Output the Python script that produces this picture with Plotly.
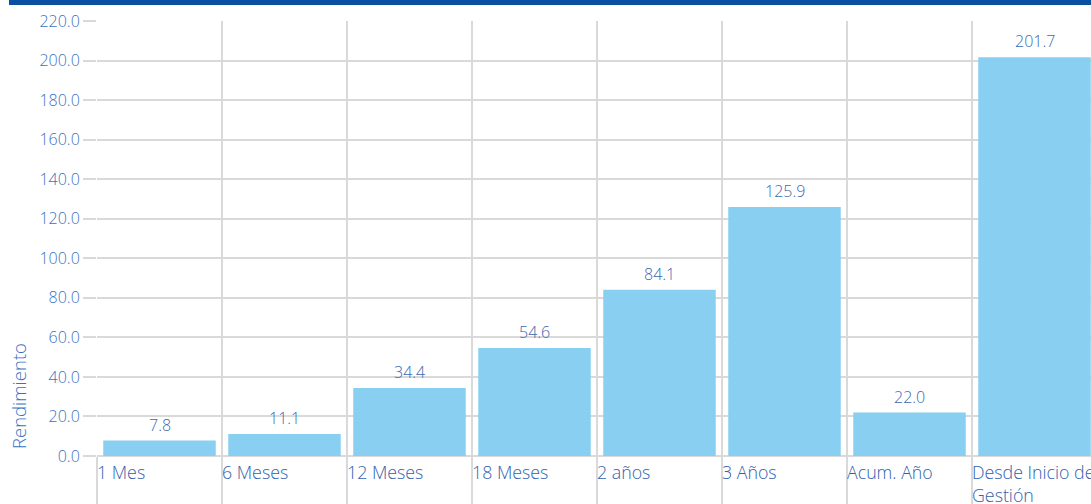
import plotly.graph_objects as go

categories = ["1 Mes", "6 Meses", "12 Meses", "18 Meses", "2 años", "3 Años", "Acum. Año", "Desde Inicio de Gestión"]
cat_labels = ["1 Mes", "6 Meses", "12 Meses", "18 Meses", "2 años", "3 Años", "Acum. Año", "Desde Inicio de<br>Gestión"]
values = [7.8, 11.1, 34.4, 54.6, 84.1, 125.9, 22.0, 201.7]

W, H = 1091, 504
ML, MT, MB = 97, 21, 48
plot_w = W - ML
plot_h = H - MT - MB
cat_px = 125.0

GRID = "#d9d9d9"
TICK_TXT = "#3a72c2"
XLBL = "#3261ad"
LBL = "#3a68b0"
FONT = "Open Sans, Noto Sans, sans-serif"
WT = 300

fig = go.Figure()
fig.add_trace(go.Bar(
    x=categories, y=values,
    marker=dict(color="#89cff1", line=dict(width=0)),
    hoverinfo="x+y",
))

xmax = plot_w / cat_px - 0.5

annotations = []
for c, v in zip(categories, values):
    annotations.append(dict(
        x=c, y=v, xref="x", yref="y", xanchor="center", yanchor="bottom",
        yshift=3, text=f"{v:.1f}", showarrow=False,
        font=dict(color=LBL, size=16, family=FONT, weight=WT),
    ))
for i, lab in enumerate(cat_labels):
    annotations.append(dict(
        x=i - 0.5, y=0, xref="x", yref="paper",
        xanchor="left", yanchor="top", yshift=-2, xshift=-2,
        text=lab, showarrow=False, align="left",
        font=dict(color=XLBL, size=17.8, family=FONT, weight=WT),
    ))
annotations.append(dict(
    x=-79 / plot_w, y=(456 - 396) / plot_h, xref="paper", yref="paper",
    text="Rendimiento", textangle=-90, showarrow=False,
    xanchor="center", yanchor="middle",
    font=dict(color=TICK_TXT, size=18.5, family=FONT, weight=WT),
))

fig.update_layout(
    width=W, height=H,
    margin=dict(l=ML, r=0, t=MT, b=MB, pad=0),
    paper_bgcolor="white", plot_bgcolor="white",
    showlegend=False,
    bargap=0.1,
    annotations=annotations,
    shapes=[dict(
        type="rect", xref="paper", yref="paper",
        x0=(9 - ML) / plot_w, x1=1.0,
        y0=1 + (MT - 5) / plot_h, y1=1 + MT / plot_h,
        fillcolor="#0a4fa0", line=dict(width=0), layer="above",
    )],
    xaxis=dict(
        type="category", range=[-0.5, xmax],
        tickson="boundaries", ticks="outside", ticklen=MB, tickcolor=GRID, tickwidth=2,
        showgrid=True, gridcolor=GRID, gridwidth=2,
        showticklabels=False, showline=False, zeroline=False, fixedrange=True,
    ),
    yaxis=dict(
        range=[0, 220], dtick=20, tick0=0, tickformat=".1f",
        ticks="outside", ticklen=13, tickcolor=GRID, tickwidth=2,
        showgrid=True, gridcolor=GRID, gridwidth=2,
        zeroline=True, zerolinecolor=GRID, zerolinewidth=2,
        tickfont=dict(color=TICK_TXT, size=16, family=FONT, weight=WT),
        showline=False,
    ),
)

fig.write_html(
    "out.html",
    config={"displayModeBar": False},
    post_script="document.body.style.margin='0';document.body.style.overflow='hidden';",
)
